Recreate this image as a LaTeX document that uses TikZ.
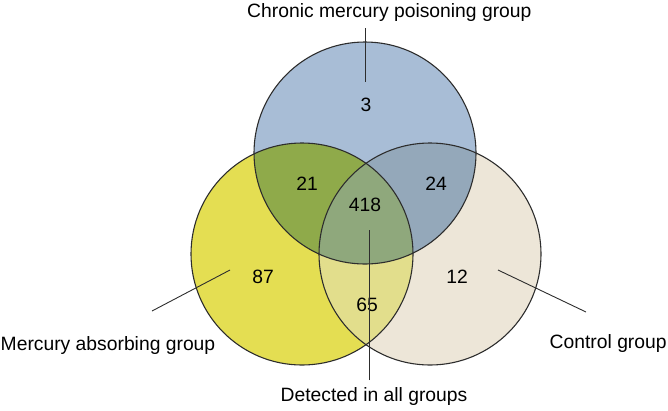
\documentclass[tikz,border=0pt]{standalone}
\usepackage{fontspec}
\setmainfont{Liberation Sans}
\definecolor{cblue}{RGB}{168,189,214}
\definecolor{cyellow}{RGB}{228,222,82}
\definecolor{cbeige}{RGB}{237,230,216}
\definecolor{cgreen}{RGB}{143,170,74}
\definecolor{cgrayblue}{RGB}{148,168,186}
\definecolor{cltyellow}{RGB}{226,222,140}
\definecolor{ccenter}{RGB}{143,168,124}
\definecolor{cline}{RGB}{45,45,45}
\tikzset{
  lbl/.style={inner sep=0pt, font=\fontsize{19.3}{22}\selectfont, text=black},
  num/.style={inner sep=0pt, font=\fontsize{19.3}{22}\selectfont, text=black},
  ring/.style={draw=cline, line width=1.1pt},
  lead/.style={draw=cline, line width=0.9pt}
}
\begin{document}
\begin{tikzpicture}[x=1pt,y=-1pt]
\useasboundingbox (0,0) rectangle (668,410);
\def\R{111}
\coordinate (T) at (365,153);
\coordinate (L) at (302,254);
\coordinate (Rt) at (430,254);
% base fills
\fill[cblue] (T) circle (\R);
\fill[cyellow] (L) circle (\R);
\fill[cbeige] (Rt) circle (\R);
% pairwise
\begin{scope}\clip (L) circle (\R); \fill[cgreen] (T) circle (\R);\end{scope}
\begin{scope}\clip (T) circle (\R); \fill[cgrayblue] (Rt) circle (\R);\end{scope}
\begin{scope}\clip (L) circle (\R); \fill[cltyellow] (Rt) circle (\R);\end{scope}
\begin{scope}\clip (L) circle (\R); \clip (T) circle (\R); \fill[ccenter] (Rt) circle (\R);\end{scope}
% outlines
\draw[ring] (T) circle (\R);
\draw[ring] (L) circle (\R);
\draw[ring] (Rt) circle (\R);
% numbers
\node[num] (n3) at (366,105) {3};
\node[num] (n21) at (307,184) {21};
\node[num] (n24) at (436,184) {24};
\node[num] (n418) at (365,205) {418};
\node[num] (n87) at (263,277) {87};
\node[num] (n12) at (457,277) {12};
\node[num] (n65) at (367,305) {65};
% labels
\node[lbl, anchor=base west] (lt) at (247,17.5) {Chronic mercury poisoning group};
\node[lbl, anchor=base west] (ll) at (0.5,350.5) {Mercury absorbing group};
\node[lbl, anchor=base west] (lr) at (549.5,348) {Control group};
\node[lbl, anchor=base] (lb) at (374,401.5) {Detected in all groups};
% leader lines
\coordinate (t1) at (365,28); \coordinate (t2) at (365,82);
\coordinate (l1) at (152,311); \coordinate (l2) at (230,270);
\coordinate (r1) at (586,312); \coordinate (r2) at (498,270);
\coordinate (b1) at (369,380); \coordinate (b2) at (369,230);
\draw[lead] (t1) -- (t2);
\draw[lead] (l1) -- (l2);
\draw[lead] (r1) -- (r2);
\draw[lead] (b1) -- (b2);
\end{tikzpicture}
\end{document}
